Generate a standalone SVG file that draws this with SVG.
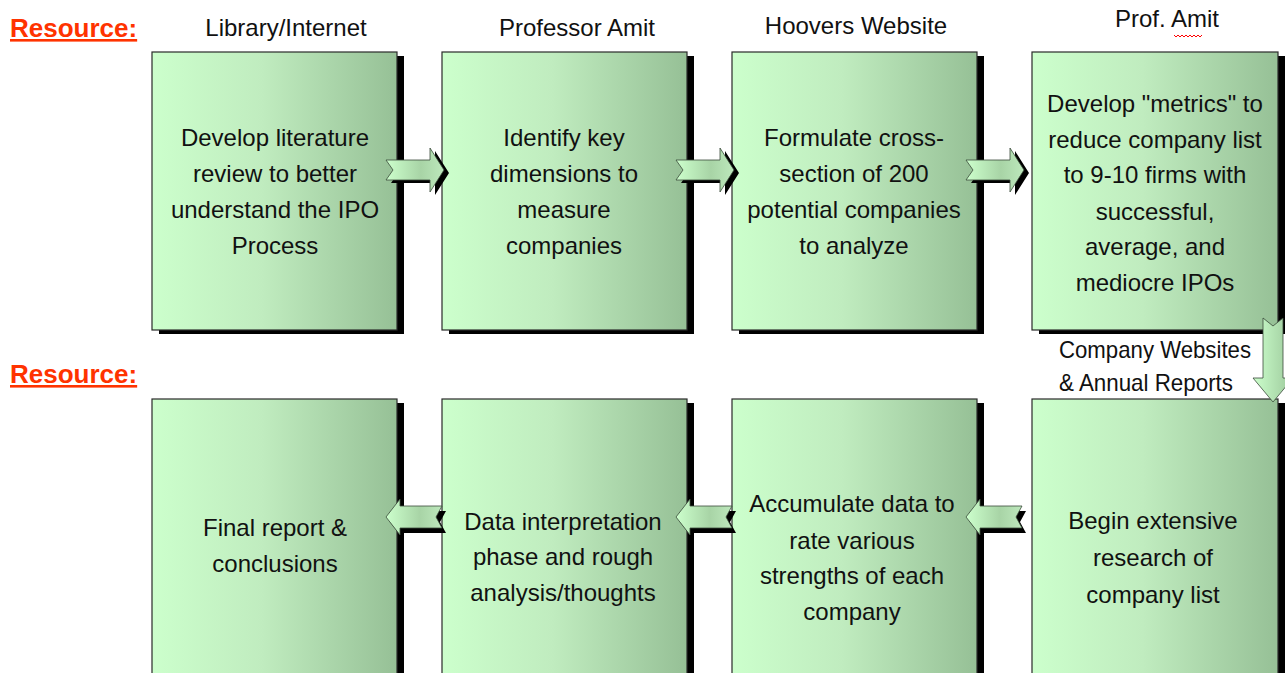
<svg xmlns="http://www.w3.org/2000/svg" width="1285" height="673" viewBox="0 0 1285 673">
<defs>
<linearGradient id="boxg" x1="0" y1="0" x2="1" y2="0">
<stop offset="0" stop-color="#ccffcc"/>
<stop offset="0.45" stop-color="#c0ecbf"/>
<stop offset="1" stop-color="#96c096"/>
</linearGradient>
<linearGradient id="arrg" x1="0" y1="0" x2="1" y2="0">
<stop offset="0" stop-color="#ccffcc"/>
<stop offset="0.6" stop-color="#a8d4a6"/>
<stop offset="1" stop-color="#bde8bc"/>
</linearGradient>
<linearGradient id="arrgv" x1="0" y1="0" x2="1" y2="0">
<stop offset="0" stop-color="#ccffcc"/>
<stop offset="1" stop-color="#9cc89b"/>
</linearGradient>
<path id="rarrow" d="M0,-10 L44,-10 L44,-22 L58,0 L44,22 L44,10 L0,10 L7,0 Z"/>
<path id="larrow" d="M0,0 L14,-18 L14,-11 L56,-11 L50,0 L56,11 L14,11 L14,18 Z"/>
</defs>
<style>
.box{fill:url(#boxg);stroke:#2a2a2a;stroke-width:1.2}
.shadow{fill:#000}
.t{font-family:"Liberation Sans",Arial,sans-serif;font-size:24px;fill:#111;text-anchor:middle}
.res{font-family:"Liberation Sans",Arial,sans-serif;font-size:26px;font-weight:bold;fill:#ff3300;text-decoration:underline}
.arr{fill:url(#arrg);stroke:#3a4a3a;stroke-width:0.8}
.arrsh{fill:#000}
</style>

<g id="resource-labels">
<text class="res" x="10" y="37">Resource:</text>
<text class="res" x="10" y="383">Resource:</text>
</g>

<g id="resource-names">
<text class="t" x="286" y="36">Library/Internet</text>
<text class="t" x="577" y="36">Professor Amit</text>
<text class="t" x="856" y="34">Hoovers Website</text>
<text class="t" x="1167" y="27">Prof. Amit</text>
<path d="M1174,35 l2,2 l2,-2 l2,2 l2,-2 l2,2 l2,-2 l2,2 l2,-2 l2,2 l2,-2 l2,2 l2,-2 l2,2 l2,-2" fill="none" stroke="#ff0000" stroke-width="1"/>
<text class="t" x="1155" y="358" textLength="192" lengthAdjust="spacingAndGlyphs">Company Websites</text>
<text class="t" x="1146" y="391" textLength="174" lengthAdjust="spacingAndGlyphs">&amp; Annual Reports</text>
</g>

<g id="node1">
<rect class="shadow" x="159" y="56" width="245" height="278"/>
<rect class="box" x="152" y="52" width="245" height="278"/>
<text class="t"><tspan x="275" y="146">Develop literature</tspan><tspan x="275" y="182">review to better</tspan><tspan x="275" y="218">understand the IPO</tspan><tspan x="275" y="254">Process</tspan></text>
</g>
<g id="node2">
<rect class="shadow" x="449" y="56" width="245" height="278"/>
<rect class="box" x="442" y="52" width="245" height="278"/>
<text class="t"><tspan x="564" y="146">Identify key</tspan><tspan x="564" y="182">dimensions to</tspan><tspan x="564" y="218">measure</tspan><tspan x="564" y="254">companies</tspan></text>
</g>
<g id="node3">
<rect class="shadow" x="739" y="56" width="245" height="278"/>
<rect class="box" x="732" y="52" width="245" height="278"/>
<text class="t"><tspan x="854" y="146">Formulate cross-</tspan><tspan x="854" y="182">section of 200</tspan><tspan x="854" y="218">potential companies</tspan><tspan x="854" y="254">to analyze</tspan></text>
</g>
<g id="node4">
<rect class="shadow" x="1039" y="56" width="246" height="278"/>
<rect class="box" x="1032" y="52" width="246" height="278"/>
<text class="t"><tspan x="1155" y="112">Develop "metrics" to</tspan><tspan x="1155" y="148">reduce company list</tspan><tspan x="1155" y="183">to 9-10 firms with</tspan><tspan x="1155" y="220">successful,</tspan><tspan x="1155" y="255">average, and</tspan><tspan x="1155" y="291">mediocre IPOs</tspan></text>
</g>

<g id="node5">
<rect class="shadow" x="159" y="403" width="245" height="290"/>
<rect class="box" x="152" y="399" width="245" height="290"/>
<text class="t"><tspan x="275" y="536">Final report &amp;</tspan><tspan x="275" y="572">conclusions</tspan></text>
</g>
<g id="node6">
<rect class="shadow" x="449" y="403" width="245" height="290"/>
<rect class="box" x="442" y="399" width="245" height="290"/>
<text class="t"><tspan x="563" y="530">Data interpretation</tspan><tspan x="563" y="565">phase and rough</tspan><tspan x="563" y="601">analysis/thoughts</tspan></text>
</g>
<g id="node7">
<rect class="shadow" x="739" y="403" width="245" height="290"/>
<rect class="box" x="732" y="399" width="245" height="290"/>
<text class="t"><tspan x="852" y="512">Accumulate data to</tspan><tspan x="852" y="549">rate various</tspan><tspan x="852" y="584">strengths of each</tspan><tspan x="852" y="620">company</tspan></text>
</g>
<g id="node8">
<rect class="shadow" x="1039" y="403" width="246" height="290"/>
<rect class="box" x="1032" y="399" width="246" height="290"/>
<text class="t"><tspan x="1153" y="529">Begin extensive</tspan><tspan x="1153" y="566">research of</tspan><tspan x="1153" y="603">company list</tspan></text>
</g>

<g id="connectors">
<g transform="translate(386,170)"><use href="#rarrow" class="arrsh" x="5" y="3"/><use href="#rarrow" class="arr"/></g>
<g transform="translate(676,170)"><use href="#rarrow" class="arrsh" x="5" y="3"/><use href="#rarrow" class="arr"/></g>
<g transform="translate(966,170)"><use href="#rarrow" class="arrsh" x="5" y="3"/><use href="#rarrow" class="arr"/></g>

<g transform="translate(386,517)"><use href="#larrow" class="arrsh" x="4" y="5"/><use href="#larrow" class="arr"/></g>
<g transform="translate(676,517)"><use href="#larrow" class="arrsh" x="4" y="5"/><use href="#larrow" class="arr"/></g>
<g transform="translate(966,517)"><use href="#larrow" class="arrsh" x="4" y="5"/><use href="#larrow" class="arr"/></g>

<path d="M1263,318 L1273,326 L1283,318 L1283,378 L1293,378 L1273,402 L1253,378 L1263,378 Z" fill="url(#arrgv)" stroke="#3a4a3a" stroke-width="0.8"/>
</g>
</svg>
